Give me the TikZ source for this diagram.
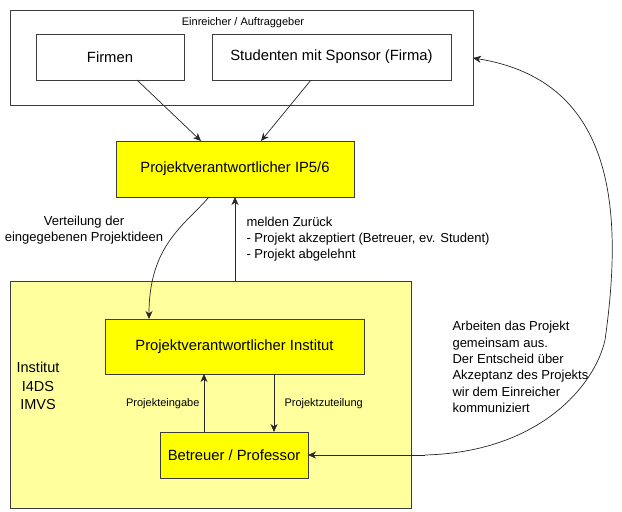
\documentclass[tikz,border=0pt]{standalone}
\usepackage{fontspec}
\setmainfont{Liberation Sans}
\usetikzlibrary{arrows.meta}
\definecolor{boxline}{HTML}{3C3C3C}
\definecolor{inst}{HTML}{FFFF9E}
\definecolor{yel}{HTML}{FFFF00}
\tikzset{
  box/.style={draw=boxline, line width=0.9pt},
  ybox/.style={draw=boxline, line width=0.9pt, fill=yel},
  bigtext/.style={font=\fontsize{14.8}{17}\selectfont},
  midtext/.style={font=\fontsize{13}{16}\selectfont},
  smalltext/.style={font=\fontsize{11}{13}\selectfont},
  conn/.style={draw=black!85, line width=0.7pt, -{Stealth[length=8pt,width=7pt,inset=2.5pt]}},
}
\begin{document}
\begin{tikzpicture}[x=1pt,y=-1pt]
\useasboundingbox (0,0) rectangle (622,512);
% top container
\draw[box, fill=white] (10,10) rectangle (473,105);
\coordinate (topE) at (473,58);
\node[smalltext] (einr) at (243,23) {Einreicher / Auftraggeber};
\draw[box] (36,34) rectangle (184,80);
\node[bigtext] (firmen) at (110,57) {Firmen};
\coordinate (firmenS) at (137,80);
\draw[box] (212,34) rectangle (451,80);
\node[bigtext] (stud) at (331.5,57) {Studenten mit Sponsor (Firma)};
\coordinate (studS) at (311,80);
% IP5/6
\draw[ybox] (116,141) rectangle (354,197);
\node[bigtext] (ip) at (235,169) {Projektverantwortlicher IP5/6};
\coordinate (ipA) at (201,141);
\coordinate (ipB) at (261,141);
\coordinate (ipC) at (209,197);
\coordinate (ipD) at (235,197);
\draw[conn] (firmenS) -- (ipA);
\draw[conn] (studS) -- (ipB);
% institut container
\draw[box, fill=inst] (10,281) rectangle (411,508);
\coordinate (instT) at (235,281);
\node[align=center, font=\fontsize{14.5}{18.5}\selectfont] (instlbl) at (38,386) {Institut\\I4DS\\IMVS};
\draw[ybox] (105,319) rectangle (364,374);
\node[bigtext] (pi) at (234.5,346.5) {Projektverantwortlicher Institut};
\coordinate (piT) at (149,319);
\coordinate (piB1) at (204,374);
\coordinate (piB2) at (274,374);
\draw[ybox] (160,432) rectangle (308,478);
\node[bigtext] (bet) at (234,455) {Betreuer / Professor};
\coordinate (betT1) at (204,432);
\coordinate (betT2) at (274,432);
\coordinate (betE) at (308,455);
% connectors
\draw[conn] (ipC) .. controls (185,225) and (149,245) .. (piT);
\node[midtext, align=center] (vert) at (84,230) {Verteilung der\\eingegebenen Projektideen};
\draw[conn] (instT) -- (ipD);
\node[midtext, align=left, anchor=north west] (meld) at (243,214) {melden Zurück\\- Projekt akzeptiert (Betreuer, ev. Student)\\- Projekt abgelehnt};
\draw[conn] (betT1) -- (piB1);
\node[smalltext, anchor=east] (eing) at (203,404) {Projekteingabe};
\draw[conn] (piB2) -- (betT2);
\node[smalltext, anchor=west] (zut) at (281,404) {Projektzuteilung};
% right curve
\coordinate (r1) at (425,455);
\coordinate (r2) at (605,340);
\draw[conn] (r1) .. controls (540,452) and (595,385) .. (r2)
  .. controls (625,200) and (610,80) .. (topE);
\draw[conn] (r1) -- (betE);
\node[align=left, anchor=north west, font=\fontsize{13}{16.3}\selectfont] (arb) at (449,318) {Arbeiten das Projekt\\gemeinsam aus.\\Der Entscheid über\\Akzeptanz des Projekts\\wir dem Einreicher\\kommuniziert};
\end{tikzpicture}
\end{document}
